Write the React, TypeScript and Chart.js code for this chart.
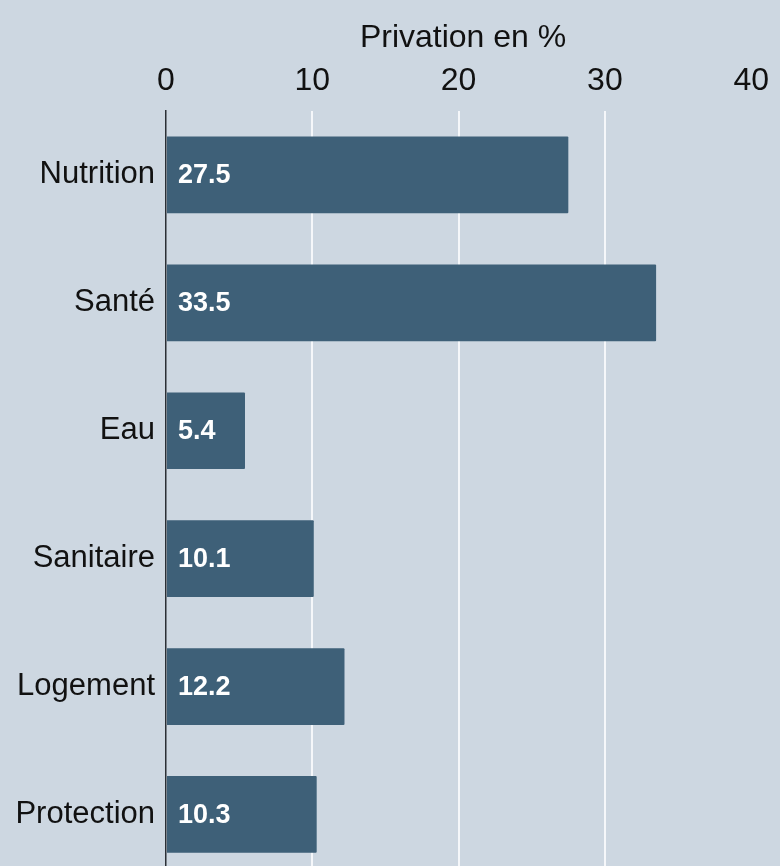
import React, { useEffect, useRef } from "react";
import { Chart, registerables } from "chart.js";

Chart.register(...registerables);

const categories = ["Nutrition", "Santé", "Eau", "Sanitaire", "Logement", "Protection"];
const values = [27.5, 33.5, 5.4, 10.1, 12.2, 10.3];
const axisTitle = " Privation en %";

const FONT = "'Liberation Sans', Arial, Helvetica, sans-serif";
const BG = "#cdd7e1";
const BAR = "#3e6078";

const valueLabels = {
  id: "valueLabels",
  afterDatasetsDraw(chart: any) {
    const ctx = chart.ctx;
    const meta = chart.getDatasetMeta(0);
    ctx.save();
    ctx.fillStyle = "#ffffff";
    ctx.font = `bold 27px ${FONT}`;
    ctx.textAlign = "left";
    ctx.textBaseline = "middle";
    meta.data.forEach((el: any, i: number) => {
      const v = chart.data.datasets[0].data[i];
      ctx.fillText(String(v), el.base + 11, el.y + 1);
    });
    ctx.restore();
  },
};

export default function App() {
  const ref = useRef<HTMLCanvasElement | null>(null);
  useEffect(() => {
    if (!ref.current) return;
    const chart = new Chart(ref.current, {
      type: "bar",
      data: {
        labels: categories,
        datasets: [
          {
            data: values,
            backgroundColor: BAR,
            barPercentage: 0.6,
            categoryPercentage: 1,
            borderRadius: 1,
          },
        ],
      },
      options: {
        indexAxis: "y",
        animation: false,
        responsive: false,
        maintainAspectRatio: false,
        layout: { padding: { top: 0, right: 22, bottom: 0, left: 0 } },
        plugins: {
          legend: { display: false },
          tooltip: { enabled: false },
        },
        scales: {
          x: {
            position: "top",
            min: 0,
            max: 40,
            afterFit: (scale: any) => {
              scale.height = 111;
            },
            ticks: {
              stepSize: 10,
              color: "#111",
              padding: 11,
              font: { family: FONT, size: 32 },
            },
            title: {
              display: true,
              text: axisTitle,
              color: "#111",
              padding: { top: 19, bottom: 0 },
              font: { family: FONT, size: 32 },
            },
            grid: {
              drawTicks: false,
              lineWidth: 2,
              color: (c: any) =>
                c.tick && (c.tick.value === 0 || c.tick.value === 40)
                  ? "rgba(0,0,0,0)"
                  : "#f5f7fa",
            },
            border: { display: false },
          },
          y: {
            afterFit: (scale: any) => {
              scale.width = 166;
            },
            ticks: {
              color: "#111",
              padding: 11,
              font: { family: FONT, size: 31 },
            },
            grid: { display: false, drawTicks: false },
            border: { display: true, color: "#2a2f35", width: 1.5 },
          },
        },
      },
      plugins: [valueLabels],
    });
    return () => chart.destroy();
  }, []);

  return (
    <div
      style={{
        position: "fixed",
        left: 0,
        top: 0,
        width: 780,
        height: 866,
        overflow: "hidden",
        background: BG,
      }}
    >
      <canvas ref={ref} width={780} height={908} style={{ display: "block" }} />
    </div>
  );
}
